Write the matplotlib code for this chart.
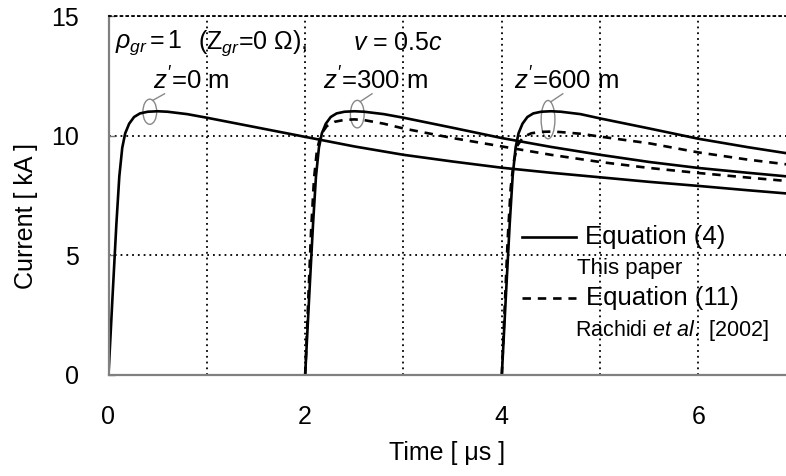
import matplotlib
matplotlib.use("Agg")
import matplotlib.pyplot as plt
from matplotlib.patches import Ellipse

plt.rcParams['font.family'] = ['Liberation Sans', 'DejaVu Sans']
plt.rcParams['mathtext.fontset'] = 'custom'
plt.rcParams['mathtext.rm'] = 'Liberation Sans'
plt.rcParams['mathtext.it'] = 'Liberation Sans:italic'

# Equation (4), z'=0 m  (time in us, current in kA)
t_eq4_0 = [0.0, 0.04, 0.08, 0.11, 0.14, 0.17, 0.21, 0.26, 0.32, 0.40, 0.50, 0.60,
           0.80, 1.0, 1.5, 2.0, 2.5, 3.0, 3.5, 4.0, 4.5, 5.0, 5.5, 6.0, 6.5, 7.0]
i_eq4_0 = [0.0, 3.2, 6.3, 8.3, 9.5, 10.1, 10.5, 10.78, 10.93, 11.0, 11.02, 11.0,
           10.9, 10.75, 10.35, 9.95, 9.55, 9.2, 8.92, 8.66, 8.45, 8.26, 8.07, 7.9, 7.72, 7.55]

# Equation (4), z'=300 m
t_eq4_300 = [2.0, 2.04, 2.08, 2.11, 2.14, 2.17, 2.21, 2.26, 2.32, 2.40, 2.50, 2.60,
             2.80, 3.0, 3.5, 4.0, 4.5, 5.0, 5.5, 6.0, 6.5, 7.0]
i_eq4_300 = [0.0, 3.2, 6.3, 8.3, 9.5, 10.1, 10.5, 10.78, 10.93, 11.0, 11.02, 11.0,
             10.9, 10.75, 10.33, 9.9, 9.53, 9.2, 8.9, 8.65, 8.45, 8.26]

# Equation (4), z'=600 m
t_eq4_600 = [4.0, 4.04, 4.08, 4.11, 4.14, 4.17, 4.21, 4.26, 4.32, 4.40, 4.50, 4.60,
             4.80, 5.0, 5.5, 6.0, 6.5, 7.0]
i_eq4_600 = [0.0, 3.2, 6.3, 8.3, 9.5, 10.1, 10.5, 10.78, 10.93, 11.0, 11.02, 11.0,
             10.9, 10.72, 10.3, 9.87, 9.52, 9.2]

# Equation (11), Rachidi et al. [2002], z'=300 m
t_eq11_300 = [2.0, 2.03, 2.06, 2.09, 2.12, 2.16, 2.22, 2.30, 2.40, 2.50, 2.60,
              2.80, 3.0, 3.5, 4.0, 4.5, 5.0, 5.5, 6.0, 6.5, 7.0]
i_eq11_300 = [0.0, 3.0, 6.0, 8.2, 9.4, 10.05, 10.4, 10.58, 10.66, 10.68, 10.65,
              10.5, 10.3, 9.9, 9.55, 9.2, 8.9, 8.65, 8.44, 8.25, 8.07]

# Equation (11), Rachidi et al. [2002], z'=600 m
t_eq11_600 = [4.0, 4.03, 4.06, 4.09, 4.12, 4.16, 4.22, 4.30, 4.40, 4.50, 4.60,
              4.80, 5.0, 5.5, 6.0, 6.5, 7.0]
i_eq11_600 = [0.0, 2.9, 5.7, 7.8, 8.9, 9.6, 9.95, 10.1, 10.16, 10.17, 10.15,
              10.08, 9.96, 9.68, 9.3, 9.0, 8.75]

x_ticks = [0, 2, 4, 6]
y_ticks = [0, 5, 10, 15]

W, H = 786, 476
fig = plt.figure(figsize=(W / 100, H / 100), dpi=100)
ax = fig.add_axes([108.5 / W, 1 - 375 / H, (W - 108.5) / W, (375 - 16) / H])

ax.set_xlim(0, 6.89)
ax.set_ylim(0, 15)
ax.set_xticks(x_ticks)
ax.set_yticks(y_ticks)
ax.set_xticks([1, 3, 5], minor=True)
ax.grid(True, which='both', color='black', linestyle=(0, (1, 2.2)), linewidth=1.3)
ax.tick_params(axis='x', which='both', length=0, labelsize=18, pad=21.5)
ax.tick_params(axis='y', which='both', direction='in', length=4, width=1,
               color='#777777', labelsize=18, pad=21)
ax.tick_params(axis='y', which='minor', length=0)

for s in ['left', 'bottom']:
    ax.spines[s].set_color('#808080')
    ax.spines[s].set_linewidth(1.6)
ax.spines['right'].set_visible(False)
ax.spines['top'].set_linestyle((0, (1, 2.2)))
ax.spines['top'].set_linewidth(1.3)

lw = 1.9
dash = (0, (3.2, 2.6))
ax.plot(t_eq4_0, i_eq4_0, color='black', lw=lw)
ax.plot(t_eq4_300, i_eq4_300, color='black', lw=lw)
ax.plot(t_eq4_600, i_eq4_600, color='black', lw=lw)
ax.plot(t_eq11_300, i_eq11_300, color='black', lw=lw, linestyle=dash)
ax.plot(t_eq11_600, i_eq11_600, color='black', lw=lw, linestyle=dash)

ax.set_xlabel('Time [ μs ]', fontsize=18, labelpad=9)
ax.set_ylabel('Current [ kA ]', fontsize=18)
ax.yaxis.set_label_coords(-0.104, 0.443)

# parameters
ax.text(0.066, 13.87, r'$\rho_{gr}\,$=$\,$1', fontsize=18, va='center', ha='left')
ax.text(0.91, 13.87, r'($\mathrm{Z}_{gr}$=0 Ω),', fontsize=18, va='center', ha='left')
ax.text(2.49, 13.87, r'$v$ = 0.5$c$', fontsize=18, va='center', ha='left')

# z' labels with ellipses and leader lines
labels = [r"$z'$=0 m", r"$z'$=300 m", r"$z'$=600 m"]
label_x = [0.45, 2.18, 4.12]
ell_x = [0.42, 2.53, 4.47]
ell_y = [11.0, 10.9, 10.67]
ell_h = [1.05, 1.15, 1.6]
for lab, lx, ex, ey, eh in zip(labels, label_x, ell_x, ell_y, ell_h):
    ax.text(lx, 12.3, lab, fontsize=18.5, ha='left', va='center')
    ax.add_patch(Ellipse((ex, ey), 0.14, eh, fill=False, edgecolor='#888888', lw=1.0))
    ax.plot([ex + 0.03, ex + 0.15], [ey + eh / 2 - 0.05, 11.75], color='#888888', lw=1.0)

# legend drawn by hand
ax.plot([4.21, 4.75], [5.77, 5.77], color='black', lw=lw)
ax.text(4.85, 5.77, 'Equation (4)', fontsize=18.5, va='center', ha='left')
ax.text(4.76, 4.43, 'This paper', fontsize=16, va='center', ha='left')
ax.plot([4.21, 4.75], [3.2, 3.2], color='black', lw=lw, linestyle=dash)
ax.text(4.86, 3.22, 'Equation (11)', fontsize=18.5, va='center', ha='left')
ax.text(4.74, 1.88, r'Rachidi $et$ $al.$ [2002]', fontsize=15.5, va='center', ha='left')

fig.savefig('out.png', dpi=100)
